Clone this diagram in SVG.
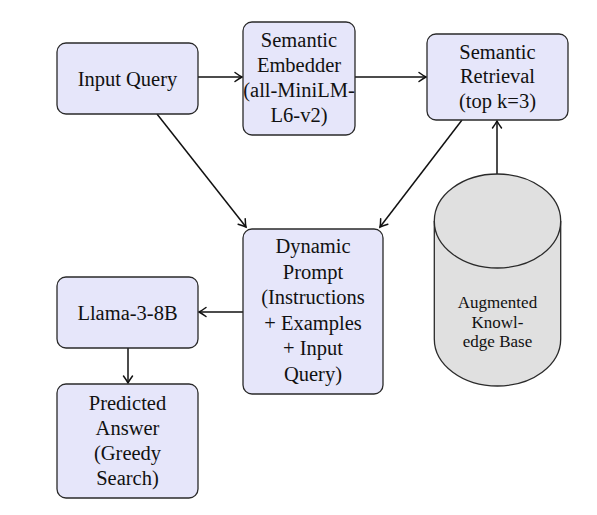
<svg xmlns="http://www.w3.org/2000/svg" width="597" height="515" viewBox="0 0 597 515">
<defs>
<marker id="arr" markerUnits="userSpaceOnUse" markerWidth="16" markerHeight="16" viewBox="-10 -8 12 16" refX="0" refY="0" orient="auto">
<path d="M-7,-4.5 Q-2.5,-1.2 0,0 Q-2.5,1.2 -7,4.5" fill="none" stroke="#111" stroke-width="1.5" stroke-linecap="round"/>
</marker>
<style>
.box{fill:#e6e6fa;stroke:#2a2a2a;stroke-width:1.3}
.cyl{fill:#e0e0e0;stroke:#2a2a2a;stroke-width:1.3}
.t{font-family:'Liberation Serif','Times New Roman',Times,'Nimbus Roman','Nimbus Roman No9 L',FreeSerif,'Noto Serif','DejaVu Serif',serif;font-size:20.5px;fill:#111;text-anchor:middle}
.s{font-family:'Liberation Serif','Times New Roman',Times,'Nimbus Roman','Nimbus Roman No9 L',FreeSerif,'Noto Serif','DejaVu Serif',serif;font-size:17px;fill:#111;text-anchor:middle}
.c{fill:none;stroke:#111;stroke-width:1.5;marker-end:url(#arr)}
</style>
</defs>
<rect width="597" height="515" fill="#fff"/>
<g id="connectors">
<line class="c" x1="198" y1="77" x2="242" y2="77"/>
<line class="c" x1="355" y1="77" x2="426" y2="77"/>
<line class="c" x1="157" y1="114" x2="246" y2="227"/>
<line class="c" x1="462" y1="120" x2="380" y2="227"/>
<line class="c" x1="497" y1="174" x2="497" y2="121"/>
<line class="c" x1="243" y1="312" x2="199" y2="312"/>
<line class="c" x1="128" y1="348" x2="128" y2="383"/>
</g>
<g id="input-query">
<rect class="box" x="57" y="43" width="141" height="71" rx="9"/>
<text class="t" x="127.5" y="86">Input Query</text>
</g>
<g id="semantic-embedder">
<rect class="box" x="243" y="22" width="112" height="113" rx="9"/>
<text class="t" x="299" y="47">Semantic</text>
<text class="t" x="299" y="72">Embedder</text>
<text class="t" x="299" y="97">(all-MiniLM-</text>
<text class="t" x="299" y="122">L6-v2)</text>
</g>
<g id="semantic-retrieval">
<rect class="box" x="427" y="34" width="141" height="86" rx="9"/>
<text class="t" x="497.5" y="58.5">Semantic</text>
<text class="t" x="497.5" y="83">Retrieval</text>
<text class="t" x="497.5" y="107.5">(top k=3)</text>
</g>
<g id="knowledge-base">
<path class="cyl" d="M434.3,221 L434.3,339 A63.2,47 0 0 0 560.7,339 L560.7,221 A63.2,47 0 0 0 434.3,221 Z"/>
<path fill="none" stroke="#2a2a2a" stroke-width="1.3" d="M434.3,221 A63.2,47 0 0 0 560.7,221"/>
<text class="s" x="497.5" y="308">Augmented</text>
<text class="s" x="497.5" y="327.5">Knowl-</text>
<text class="s" x="497.5" y="347">edge Base</text>
</g>
<g id="dynamic-prompt">
<rect class="box" x="243" y="229" width="140" height="165" rx="9"/>
<text class="t" x="313" y="253">Dynamic</text>
<text class="t" x="313" y="278.5">Prompt</text>
<text class="t" x="313" y="304">(Instructions</text>
<text class="t" x="313" y="329.5">+ Examples</text>
<text class="t" x="313" y="355">+ Input</text>
<text class="t" x="313" y="380.5">Query)</text>
</g>
<g id="llama">
<rect class="box" x="57" y="277" width="141" height="71" rx="9"/>
<text class="t" x="127.5" y="320">Llama-3-8B</text>
</g>
<g id="predicted-answer">
<rect class="box" x="57" y="384" width="141" height="114" rx="9"/>
<text class="t" x="127.5" y="410">Predicted</text>
<text class="t" x="127.5" y="435">Answer</text>
<text class="t" x="127.5" y="460">(Greedy</text>
<text class="t" x="127.5" y="485">Search)</text>
</g>
</svg>
